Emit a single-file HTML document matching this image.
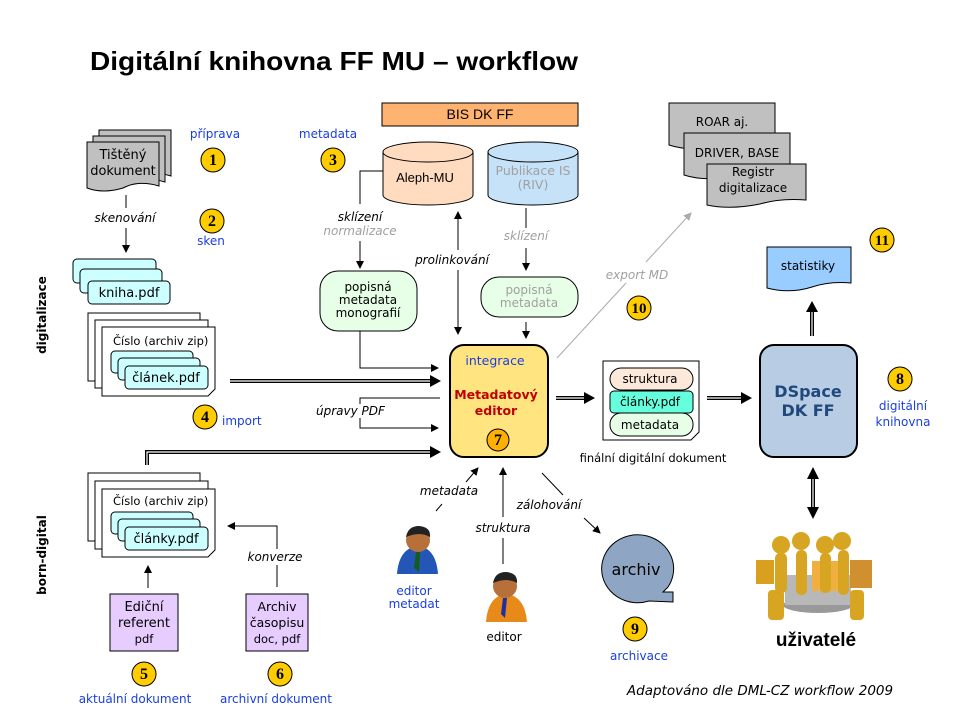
<!DOCTYPE html>
<html><head><meta charset="utf-8"><style>
html,body{margin:0;padding:0;background:#fff}
svg{display:block}
text{font-family:"DejaVu Sans","Liberation Sans",sans-serif;font-size:12px;fill:#000}
.c{text-anchor:middle}
.b{fill:#1a3fdc}
.i{font-style:italic}
.g{fill:#a0a0a0}
</style></head><body>
<svg width="960" height="720" viewBox="0 0 960 720" xmlns="http://www.w3.org/2000/svg">
<defs>
<marker id="a" markerWidth="8" markerHeight="8" refX="7" refY="4" orient="auto-start-reverse" markerUnits="userSpaceOnUse"><path d="M0,0 L8,4 L0,8 z" fill="#000"/></marker>
<marker id="ag" markerWidth="8" markerHeight="8" refX="7" refY="4" orient="auto" markerUnits="userSpaceOnUse"><path d="M0,0 L8,4 L0,8 z" fill="#aaa"/></marker>
<g id="coin"><circle r="12" fill="#ffcc00" stroke="#000" stroke-width="1"/></g>
</defs>

<text x="90" y="70" style="font-family:'Liberation Sans',sans-serif;font-size:26px;font-weight:bold" textLength="488" lengthAdjust="spacingAndGlyphs">Digitální knihovna FF MU – workflow</text>

<text transform="translate(46,315) rotate(-90)" class="c" style="font-size:12px;font-weight:bold">digitalizace</text>
<text transform="translate(46,555) rotate(-90)" class="c" style="font-size:12px;font-weight:bold">born-digital</text>

<g fill="#c0c0c0" stroke="#000" stroke-width="1">
<path d="M99,130 H171 V176 Q150,170 135,178 Q115,184 99,178 Z"/>
<path d="M93,136 H165 V182 Q144,176 129,184 Q109,190 93,184 Z"/>
<path d="M87,142 H159 V186 Q138,180 123,188 Q103,194 87,188 Z"/>
</g>
<text x="123" y="159" class="c" style="font-size:13px">Tištěný</text>
<text x="123" y="175" class="c" style="font-size:13px">dokument</text>
<text x="215" y="138" class="c b">příprava</text>
<use href="#coin" x="213" y="160"/><text x="213" y="165" class="c" style="font-family:'Liberation Serif',serif;font-weight:bold;font-size:16px">1</text>
<line x1="126" y1="195" x2="126" y2="208" stroke="#000"/>
<text x="125" y="222" class="c i">skenování</text>
<line x1="126" y1="228" x2="126" y2="252" stroke="#000" marker-end="url(#a)"/>
<use href="#coin" x="212" y="221"/><text x="212" y="226" class="c" style="font-family:'Liberation Serif',serif;font-weight:bold;font-size:16px">2</text>
<text x="211" y="245" class="c b">sken</text>

<g fill="#ccffff" stroke="#000">
<rect x="73" y="259" width="83" height="24" rx="4"/>
<rect x="80" y="269" width="82" height="24" rx="4"/>
<rect x="88" y="281" width="82" height="23" rx="4"/>
</g>
<text x="129" y="297" class="c" style="font-size:13px">kniha.pdf</text>

<g fill="#fff" stroke="#000">
<rect x="88" y="313" width="112" height="68"/>
<rect x="95" y="320" width="113" height="68"/>
<path d="M102,327 H215 V389 L208,396 H102 Z"/>
</g>
<text x="113" y="345" style="font-size:11.5px">Číslo (archiv zip)</text>
<g fill="#ccffff" stroke="#000">
<rect x="111" y="351" width="82" height="22" rx="4"/>
<rect x="118" y="358" width="82" height="22" rx="4"/>
<rect x="125" y="366" width="83" height="23" rx="4"/>
</g>
<text x="166" y="382" class="c" style="font-size:13px">článek.pdf</text>

<path d="M230,381 H432" stroke="#000" stroke-width="4" fill="none"/>
<path d="M230,381 H432" stroke="#fff" stroke-width="1.2" fill="none"/>
<path d="M430,375 L441,381 L430,387 Z"/>
<use href="#coin" x="205" y="417"/><text x="205" y="422" class="c" style="font-family:'Liberation Serif',serif;font-weight:bold;font-size:16px">4</text>
<text x="222" y="425" class="b">import</text>

<polyline points="440,398 360,398 360,428 438,428" fill="none" stroke="#000" marker-end="url(#a)"/>
<rect x="320" y="404" width="66" height="14" fill="#fff"/>
<text x="316" y="415" class="i">úpravy PDF</text>

<path d="M147,465 V452 H432" stroke="#000" stroke-width="4" fill="none"/>
<path d="M147,465 V452 H432" stroke="#fff" stroke-width="1.2" fill="none"/>
<path d="M430,446 L441,452 L430,458 Z"/>

<g fill="#fff" stroke="#000">
<rect x="88" y="473" width="112" height="68"/>
<rect x="95" y="481" width="113" height="68"/>
<path d="M102,489 H215 V550 L208,557 H102 Z"/>
</g>
<text x="113" y="505" style="font-size:11.5px">Číslo (archiv zip)</text>
<g fill="#ccffff" stroke="#000">
<rect x="111" y="512" width="82" height="22" rx="4"/>
<rect x="118" y="519" width="82" height="22" rx="4"/>
<rect x="125" y="527" width="83" height="23" rx="4"/>
</g>
<text x="166" y="543" class="c" style="font-size:13px">články.pdf</text>

<line x1="148" y1="588" x2="148" y2="566" stroke="#000" marker-end="url(#a)"/>
<polyline points="277,587 277,526 228,526" fill="none" stroke="#000" marker-end="url(#a)"/>
<rect x="245" y="549" width="62" height="16" fill="#fff"/>
<text x="275" y="561" class="c i">konverze</text>

<g fill="#e6ccff" stroke="#000">
<rect x="110" y="594" width="68" height="57"/>
<rect x="246" y="594" width="62" height="57"/>
</g>
<text x="144" y="611" class="c" style="font-size:13px">Ediční</text>
<text x="144" y="627" class="c" style="font-size:13px">referent</text>
<text x="144" y="643" class="c" style="font-size:11.5px">pdf</text>
<text x="277" y="611" class="c" style="font-size:12.5px">Archiv</text>
<text x="277" y="627" class="c" style="font-size:12.5px">časopisu</text>
<text x="277" y="643" class="c" style="font-size:11.5px">doc, pdf</text>
<use href="#coin" x="144" y="674"/><text x="144" y="679" class="c" style="font-family:'Liberation Serif',serif;font-weight:bold;font-size:16px">5</text>
<use href="#coin" x="280" y="674"/><text x="280" y="679" class="c" style="font-family:'Liberation Serif',serif;font-weight:bold;font-size:16px">6</text>
<text x="135" y="703" class="c b">aktuální dokument</text>
<text x="276" y="703" class="c b">archivní dokument</text>

<rect x="382" y="103" width="196" height="23" fill="#ffb370" stroke="#000"/>
<text x="480" y="119" class="c" style="font-family:'Liberation Sans',sans-serif;font-size:14px">BIS DK FF</text>
<text x="328" y="138" class="c b">metadata</text>
<use href="#coin" x="333" y="160"/><text x="333" y="165" class="c" style="font-family:'Liberation Serif',serif;font-weight:bold;font-size:16px">3</text>

<path d="M383,152 V195 A45,10 0 0 0 473,195 V152 Z" fill="#ffdcc0" stroke="#000"/>
<ellipse cx="428" cy="152" rx="45" ry="10" fill="#ffdcc0" stroke="#000"/>
<text x="425" y="182" class="c" style="font-family:'Liberation Sans',sans-serif;font-size:13px">Aleph-MU</text>
<path d="M488,152 V195 A45,10 0 0 0 578,195 V152 Z" fill="#c6e2f8" stroke="#000"/>
<ellipse cx="533" cy="152" rx="45" ry="10" fill="#c6e2f8" stroke="#000"/>
<text x="533" y="175" class="c g" style="font-size:12.5px">Publikace IS</text>
<text x="533" y="189" class="c g" style="font-size:12.5px">(RIV)</text>

<polyline points="383,171 360,171 360,204" fill="none" stroke="#000"/>
<text x="360" y="221" class="c i">sklízení</text>
<text x="360" y="235" class="c i g">normalizace</text>
<line x1="360" y1="241" x2="360" y2="268" stroke="#000" marker-end="url(#a)"/>
<rect x="320" y="271" width="97" height="60" rx="18" fill="#e6ffe6" stroke="#000"/>
<text x="368" y="291" class="c">popisná</text>
<text x="368" y="304" class="c">metadata</text>
<text x="368" y="317" class="c">monografií</text>
<polyline points="360,331 360,368 438,368" fill="none" stroke="#000" marker-end="url(#a)"/>

<line x1="458" y1="212" x2="458" y2="250" stroke="#000" marker-start="url(#a)"/>
<line x1="458" y1="270" x2="458" y2="334" stroke="#000" marker-end="url(#a)"/>
<text x="452" y="264" class="c i">prolinkování</text>

<line x1="526" y1="208" x2="526" y2="228" stroke="#000"/>
<text x="526" y="240" class="c i g">sklízení</text>
<line x1="526" y1="248" x2="526" y2="270" stroke="#000" marker-end="url(#a)"/>
<rect x="481" y="277" width="97" height="40" rx="18" fill="#e6ffe6" stroke="#000"/>
<text x="529" y="294" class="c g">popisná</text>
<text x="529" y="307" class="c g">metadata</text>
<line x1="526" y1="322" x2="526" y2="338" stroke="#000" marker-end="url(#a)"/>

<rect x="450" y="345" width="98" height="112" rx="14" fill="#ffe480" stroke="#000" stroke-width="2"/>
<text x="495" y="365" class="c b" style="font-size:12.5px">integrace</text>
<text x="496" y="399" class="c" style="fill:#c00000;font-weight:bold;font-size:12.5px">Metadatový</text>
<text x="496" y="415" class="c" style="fill:#c00000;font-weight:bold;font-size:12.5px">editor</text>
<circle cx="498" cy="440" r="11" fill="#ffb000" stroke="#000"/><text x="498" y="445" class="c" style="font-family:'Liberation Serif',serif;font-weight:bold;font-size:16px">7</text>

<line x1="557" y1="358" x2="626" y2="283" stroke="#aaa"/>
<line x1="646" y1="262" x2="691" y2="213" stroke="#aaa" marker-end="url(#ag)"/>
<text x="637" y="279" class="c i g">export MD</text>
<use href="#coin" x="639" y="308"/><text x="639" y="313" class="c" style="font-family:'Liberation Serif',serif;font-weight:bold;font-size:15px">10</text>

<path d="M556,398 H586" stroke="#000" stroke-width="4"/><path d="M556,398 H586" stroke="#fff" stroke-width="1.2"/>
<path d="M584,392 L595,398 L584,404 Z"/>
<path d="M603,361 H699 V432 L691,440 H603 Z" fill="#fff" stroke="#000"/>
<rect x="610" y="368" width="83" height="22" rx="11" fill="#fde9d9" stroke="#000"/>
<rect x="610" y="391" width="83" height="22" rx="4" fill="#66ffdd" stroke="#000"/>
<rect x="610" y="413" width="83" height="23" rx="11" fill="#e6ffe6" stroke="#000"/>
<text x="650" y="383" class="c">struktura</text>
<text x="650" y="406" class="c">články.pdf</text>
<text x="650" y="429" class="c">metadata</text>
<text x="653" y="462" class="c" style="font-size:11.5px">finální digitální dokument</text>
<path d="M707,398 H743" stroke="#000" stroke-width="4"/><path d="M707,398 H743" stroke="#fff" stroke-width="1.2"/>
<path d="M741,392 L752,398 L741,404 Z"/>

<rect x="760" y="345" width="97" height="112" rx="14" fill="#b8cce4" stroke="#000" stroke-width="2"/>
<text x="808" y="397" class="c" style="fill:#1f497d;font-weight:bold;font-size:16px">DSpace</text>
<text x="808" y="416" class="c" style="fill:#1f497d;font-weight:bold;font-size:16px">DK FF</text>
<use href="#coin" x="900" y="379"/><text x="900" y="384" class="c" style="font-family:'Liberation Serif',serif;font-weight:bold;font-size:16px">8</text>
<text x="903" y="410" class="c b">digitální</text>
<text x="903" y="426" class="c b">knihovna</text>

<path d="M767,247 H851 V283 Q830,281 812,287 Q790,294 767,288 Z" fill="#99ccff" stroke="#000"/>
<text x="808" y="270" class="c">statistiky</text>
<path d="M812,336 V310" stroke="#000" stroke-width="4"/><path d="M812,336 V310" stroke="#fff" stroke-width="1.2"/>
<path d="M806,312 L812,301 L818,312 Z"/>
<use href="#coin" x="882" y="240"/><text x="882" y="245" class="c" style="font-family:'Liberation Serif',serif;font-weight:bold;font-size:15px">11</text>

<g fill="#c0c0c0" stroke="#000">
<path d="M669,103 H775 V143 Q740,140 722,146 Q690,152 669,145 Z"/>
<path d="M684,133 H790 V173 Q760,170 740,176 Q705,182 684,175 Z"/>
<path d="M707,164 H806 V200 Q780,198 760,204 Q730,210 707,205 Z"/>
</g>
<text x="722" y="126" class="c">ROAR aj.</text>
<text x="737" y="157" class="c">DRIVER, BASE</text>
<text x="753" y="176" class="c">Registr</text>
<text x="753" y="192" class="c">digitalizace</text>

<path d="M813,478 V508" stroke="#000" stroke-width="4"/><path d="M813,478 V508" stroke="#fff" stroke-width="1.2"/>
<path d="M807,479 L813,467 L819,479 Z"/><path d="M807,507 L813,519 L819,507 Z"/>

<g>
<ellipse cx="818" cy="605" rx="35" ry="8" fill="#999"/>
<rect x="785" y="575" width="66" height="30" fill="#b8b8b8"/>
<rect x="756" y="560" width="18" height="24" fill="#d9a020"/>
<rect x="850" y="560" width="22" height="28" fill="#d09030"/>
<rect x="812" y="561" width="36" height="30" fill="#f0b040"/>
<g fill="#d8a522">
<circle cx="781" cy="545" r="9"/><circle cx="801" cy="541" r="9"/><circle cx="825" cy="545" r="9"/><circle cx="842" cy="541" r="9"/>
<rect x="775" y="553" width="12" height="40" rx="5"/><rect x="796" y="550" width="11" height="45" rx="5"/>
<rect x="820" y="553" width="11" height="40" rx="5"/><rect x="838" y="550" width="11" height="45" rx="5"/>
<rect x="768" y="590" width="16" height="30" rx="4"/><rect x="850" y="590" width="14" height="30" rx="4"/>
</g>
</g>
<text x="816" y="646" class="c" style="font-family:'Liberation Sans',sans-serif;font-weight:bold;font-size:19px">uživatelé</text>

<line x1="542" y1="473" x2="563" y2="495" stroke="#000"/>
<text x="549" y="509" class="c i">zálohování</text>
<line x1="584" y1="518" x2="600" y2="533" stroke="#000" marker-end="url(#a)"/>
<path d="M649,601 A36,34 0 1 1 668,587 L663,592 H673 V602 Z" fill="#8ea6c4" stroke="#000"/>
<text x="636" y="575" class="c" style="font-size:16px">archiv</text>
<use href="#coin" x="635" y="629"/><text x="635" y="634" class="c" style="font-family:'Liberation Serif',serif;font-weight:bold;font-size:16px">9</text>
<text x="639" y="660" class="c b">archivace</text>

<line x1="436" y1="511" x2="442" y2="504" stroke="#000"/>
<line x1="466" y1="482" x2="478" y2="468" stroke="#000" marker-end="url(#a)"/>
<text x="449" y="495" class="c i">metadata</text>
<line x1="503" y1="564" x2="503" y2="538" stroke="#000"/>
<line x1="503" y1="517" x2="503" y2="468" stroke="#000" marker-end="url(#a)"/>
<text x="503" y="532" class="c i">struktura</text>

<g>
<path d="M397,574 Q399,548 418,546 Q436,548 438,574 Z" fill="#2456b8"/>
<circle cx="418" cy="540" r="12" fill="#b8703a"/>
<path d="M406,537 Q408,526 419,526 Q431,527 430,537 Q420,531 406,537 Z" fill="#222"/>
<path d="M416,552 L420,552 L419,572 L414,568 Z" fill="#165a20"/>
</g>
<text x="414" y="595" class="c b">editor</text>
<text x="414" y="608" class="c b">metadat</text>
<g>
<path d="M486,622 Q488,596 506,594 Q525,596 527,622 Z" fill="#e88a1a"/>
<circle cx="505" cy="586" r="12" fill="#b8703a"/>
<path d="M493,583 Q495,572 506,572 Q518,573 517,583 Q507,577 493,583 Z" fill="#222"/>
<path d="M503,598 L507,598 L505,618 L501,614 Z" fill="#2030a0"/>
</g>
<text x="504" y="641" class="c">editor</text>

<text x="760" y="695" class="c i" style="font-size:13.5px">Adaptováno dle DML-CZ workflow 2009</text>
</svg>
</body></html>
